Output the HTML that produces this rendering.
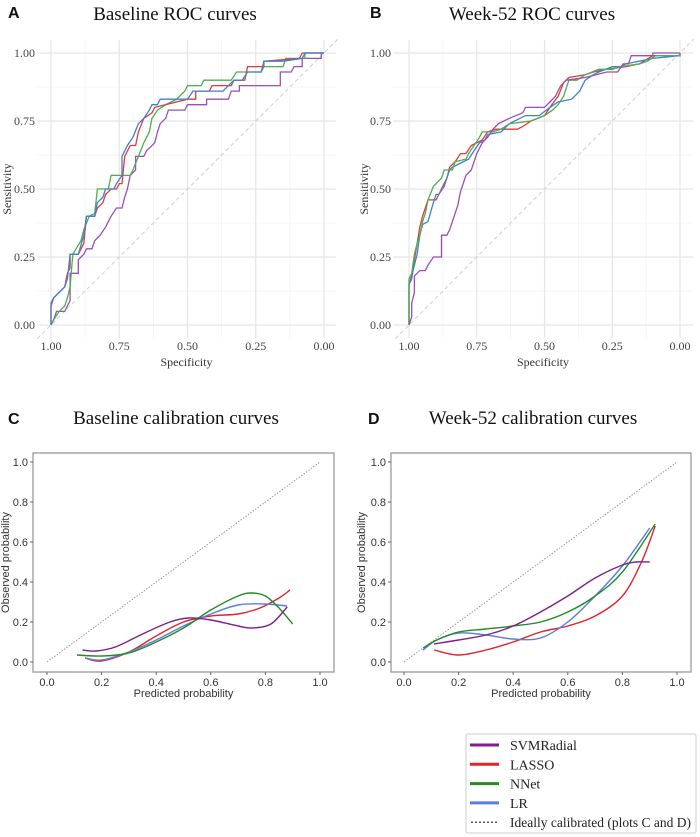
<!DOCTYPE html>
<html><head><meta charset="utf-8"><style>
html,body{margin:0;padding:0;background:#fff;}
svg{display:block;}
.serif{font-family:"Liberation Serif",serif;}
.sans{font-family:"Liberation Sans",sans-serif;}
</style></head><body>
<svg id="fig" width="700" height="837" viewBox="0 0 700 837" xmlns="http://www.w3.org/2000/svg"></svg>
<script>
// ---------- Data ----------
const rocTicks = [1.00, 0.75, 0.50, 0.25, 0.00];
const rocTickLabels = ["1.00","0.75","0.50","0.25","0.00"];
const calTicks = [0.0, 0.2, 0.4, 0.6, 0.8, 1.0];
const calTickLabels = ["0.0","0.2","0.4","0.6","0.8","1.0"];
const modelNames = ["SVMRadial","LASSO","NNet","LR"];

// Panel A (baseline ROC): [specificity, sensitivity]
const rocA_LR = [[1,0],[1,0.08],[0.99,0.1],[0.97,0.12],[0.95,0.14],[0.94,0.17],[0.93,0.26],[0.9,0.26],[0.88,0.33],[0.87,0.4],[0.84,0.4],[0.83,0.45],[0.81,0.47],[0.8,0.5],[0.77,0.5],[0.76,0.52],[0.74,0.55],[0.74,0.62],[0.72,0.66],[0.7,0.69],[0.68,0.74],[0.66,0.76],[0.64,0.79],[0.63,0.81],[0.61,0.81],[0.6,0.83],[0.5,0.83],[0.48,0.86],[0.37,0.86],[0.35,0.88],[0.33,0.9],[0.3,0.9],[0.28,0.93],[0.23,0.93],[0.22,0.97],[0.15,0.97],[0.08,0.98],[0.07,1],[0,1]];
const rocA_LASSO = [[1,0],[1,0.07],[0.99,0.1],[0.97,0.12],[0.95,0.14],[0.94,0.19],[0.93,0.21],[0.93,0.26],[0.9,0.26],[0.88,0.3],[0.87,0.4],[0.84,0.4],[0.83,0.43],[0.81,0.45],[0.8,0.48],[0.78,0.5],[0.76,0.5],[0.75,0.52],[0.74,0.52],[0.73,0.62],[0.71,0.66],[0.69,0.66],[0.68,0.71],[0.66,0.76],[0.63,0.78],[0.62,0.8],[0.5,0.83],[0.47,0.83],[0.47,0.86],[0.42,0.86],[0.41,0.88],[0.37,0.88],[0.34,0.88],[0.33,0.9],[0.29,0.9],[0.28,0.95],[0.22,0.95],[0.22,0.97],[0.09,0.98],[0.08,1],[0,1]];
const rocA_NNet = [[1,0],[0.99,0.02],[0.97,0.05],[0.95,0.07],[0.94,0.1],[0.93,0.14],[0.92,0.26],[0.89,0.31],[0.88,0.35],[0.86,0.4],[0.84,0.41],[0.83,0.5],[0.79,0.5],[0.78,0.55],[0.71,0.55],[0.7,0.57],[0.68,0.62],[0.66,0.67],[0.64,0.71],[0.63,0.76],[0.61,0.79],[0.58,0.81],[0.54,0.83],[0.51,0.86],[0.5,0.88],[0.45,0.88],[0.44,0.9],[0.34,0.9],[0.32,0.93],[0.23,0.93],[0.22,0.95],[0.15,0.95],[0.14,0.98],[0.07,0.98],[0.07,1],[0,1]];
const rocA_SVM = [[1,0],[0.99,0.02],[0.98,0.05],[0.95,0.05],[0.93,0.09],[0.93,0.19],[0.9,0.19],[0.9,0.24],[0.88,0.26],[0.87,0.28],[0.85,0.28],[0.84,0.31],[0.82,0.33],[0.8,0.36],[0.78,0.4],[0.76,0.43],[0.74,0.43],[0.73,0.47],[0.72,0.5],[0.71,0.55],[0.69,0.57],[0.69,0.62],[0.66,0.62],[0.65,0.64],[0.62,0.67],[0.61,0.71],[0.6,0.74],[0.58,0.76],[0.57,0.79],[0.51,0.79],[0.5,0.81],[0.43,0.81],[0.43,0.83],[0.35,0.83],[0.34,0.86],[0.31,0.86],[0.31,0.88],[0.16,0.88],[0.16,0.93],[0.12,0.93],[0.11,0.95],[0.08,0.95],[0.08,0.98],[0.01,0.98],[0.01,1],[0,1]];

// Panel B (week-52 ROC)
const rocB_NNet = [[1,0],[1,0.17],[0.99,0.19],[0.98,0.26],[0.97,0.3],[0.96,0.33],[0.95,0.38],[0.94,0.41],[0.93,0.46],[0.91,0.51],[0.88,0.54],[0.87,0.57],[0.84,0.57],[0.83,0.6],[0.79,0.61],[0.78,0.63],[0.76,0.66],[0.74,0.69],[0.73,0.71],[0.69,0.71],[0.66,0.72],[0.63,0.74],[0.55,0.75],[0.5,0.77],[0.47,0.79],[0.45,0.81],[0.43,0.84],[0.41,0.9],[0.38,0.9],[0.35,0.92],[0.3,0.94],[0.25,0.94],[0.22,0.95],[0.15,0.96],[0.12,0.97],[0.09,0.99],[0,0.99],[0,1]];
const rocB_LASSO = [[1,0],[1,0.15],[0.99,0.17],[0.98,0.24],[0.96,0.36],[0.95,0.4],[0.94,0.43],[0.93,0.46],[0.9,0.46],[0.88,0.5],[0.86,0.54],[0.85,0.58],[0.83,0.6],[0.81,0.63],[0.79,0.63],[0.77,0.66],[0.73,0.68],[0.71,0.71],[0.68,0.72],[0.6,0.72],[0.58,0.73],[0.55,0.75],[0.5,0.77],[0.48,0.8],[0.45,0.84],[0.43,0.89],[0.41,0.91],[0.35,0.92],[0.32,0.93],[0.27,0.94],[0.2,0.95],[0.15,0.96],[0.1,0.99],[0,0.99],[0,1]];
const rocB_LR = [[1,0],[1,0.15],[0.99,0.18],[0.98,0.22],[0.97,0.26],[0.96,0.33],[0.95,0.37],[0.93,0.38],[0.91,0.45],[0.9,0.48],[0.89,0.48],[0.87,0.51],[0.86,0.54],[0.85,0.57],[0.84,0.58],[0.82,0.59],[0.78,0.61],[0.76,0.64],[0.74,0.67],[0.72,0.68],[0.71,0.7],[0.66,0.71],[0.63,0.74],[0.57,0.77],[0.52,0.77],[0.48,0.8],[0.45,0.82],[0.4,0.83],[0.37,0.86],[0.35,0.9],[0.32,0.92],[0.3,0.93],[0.25,0.95],[0.22,0.95],[0.2,0.96],[0.15,0.97],[0.1,0.98],[0,0.99],[0,1]];
const rocB_SVM = [[1,0],[0.99,0.03],[0.99,0.08],[0.98,0.12],[0.98,0.18],[0.96,0.2],[0.94,0.2],[0.93,0.22],[0.91,0.25],[0.88,0.25],[0.88,0.33],[0.86,0.33],[0.85,0.35],[0.84,0.38],[0.82,0.44],[0.81,0.49],[0.8,0.52],[0.79,0.55],[0.77,0.57],[0.76,0.6],[0.75,0.63],[0.73,0.67],[0.71,0.69],[0.69,0.72],[0.67,0.74],[0.65,0.75],[0.63,0.76],[0.58,0.78],[0.57,0.8],[0.5,0.8],[0.48,0.82],[0.46,0.84],[0.44,0.88],[0.42,0.9],[0.35,0.91],[0.27,0.93],[0.23,0.93],[0.21,0.96],[0.19,0.96],[0.18,0.99],[0.1,0.99],[0.1,1],[0,1]];

// Panel C (baseline calibration): [predicted, observed]
const calC_SVM = [[0.13,0.06],[0.18,0.055],[0.25,0.075],[0.35,0.14],[0.45,0.2],[0.52,0.22],[0.6,0.21],[0.7,0.18],[0.75,0.17],[0.82,0.19],[0.88,0.275]];
const calC_LASSO = [[0.14,0.02],[0.2,0.005],[0.3,0.05],[0.4,0.13],[0.5,0.2],[0.6,0.23],[0.7,0.24],[0.78,0.27],[0.85,0.32],[0.89,0.36]];
const calC_NNet = [[0.11,0.035],[0.2,0.03],[0.3,0.045],[0.4,0.1],[0.5,0.17],[0.6,0.26],[0.7,0.33],[0.75,0.345],[0.8,0.33],[0.85,0.27],[0.9,0.19]];
const calC_LR = [[0.14,0.02],[0.2,0.01],[0.3,0.05],[0.4,0.11],[0.5,0.18],[0.6,0.24],[0.7,0.285],[0.8,0.29],[0.88,0.28]];

// Panel D (week-52 calibration)
const calD_SVM = [[0.11,0.09],[0.2,0.11],[0.3,0.135],[0.4,0.18],[0.5,0.25],[0.6,0.33],[0.7,0.42],[0.8,0.485],[0.85,0.5],[0.9,0.5]];
const calD_LASSO = [[0.11,0.06],[0.2,0.035],[0.3,0.06],[0.4,0.1],[0.5,0.15],[0.6,0.18],[0.7,0.23],[0.8,0.33],[0.87,0.5],[0.92,0.68]];
const calD_NNet = [[0.07,0.07],[0.12,0.11],[0.2,0.15],[0.3,0.165],[0.4,0.18],[0.5,0.2],[0.6,0.25],[0.7,0.33],[0.8,0.45],[0.92,0.69]];
const calD_LR = [[0.07,0.06],[0.12,0.11],[0.2,0.145],[0.3,0.135],[0.4,0.115],[0.5,0.12],[0.6,0.2],[0.7,0.33],[0.8,0.48],[0.9,0.67]];

// ---------- Drawing ----------
const NS = "http://www.w3.org/2000/svg";
const svg = document.getElementById("fig");
function mk(tag, attrs, parent){
  const e = document.createElementNS(NS, tag);
  for (const k in attrs) e.setAttribute(k, attrs[k]);
  (parent||svg).appendChild(e);
  return e;
}
function txt(s, attrs, parent){ const e = mk("text", attrs, parent); e.textContent = s; return e; }

const rocColors = {SVM:"#9a4fb5", LASSO:"#e23b3b", NNet:"#4cae4f", LR:"#3b82d0"};
const calColors = {SVM:"#7d1f8c", LASSO:"#e3242b", NNet:"#238b22", LR:"#5a7ee0"};

function rocPanel(cfg){
  const g = mk("g", {});
  
  
  const X = v => cfg.xAt0 + (cfg.xAt1 - cfg.xAt0) * v;
  const Y = v => cfg.yAt0 + (cfg.yAt1 - cfg.yAt0) * v;
  [0.125,0.375,0.625,0.875].forEach(v=>{
    mk("line",{x1:cfg.left,x2:cfg.right,y1:Y(v),y2:Y(v),stroke:"#f2f2f2","stroke-width":0.8},g);
    mk("line",{x1:X(v),x2:X(v),y1:cfg.top,y2:cfg.bottom,stroke:"#f2f2f2","stroke-width":0.8},g);
  });
  rocTicks.forEach(v=>{
    mk("line",{x1:cfg.left,x2:cfg.right,y1:Y(v),y2:Y(v),stroke:"#e6e6e6","stroke-width":1.2},g);
    mk("line",{x1:X(v),x2:X(v),y1:cfg.top,y2:cfg.bottom,stroke:"#e6e6e6","stroke-width":1.2},g);
  });
  const d = mk("line",{x1:X(1.05),y1:Y(-0.05),x2:X(-0.05),y2:Y(1.05),stroke:"#cfcfcf","stroke-width":1,"stroke-dasharray":"4,3"},g);
  
  
  cfg.series.forEach(s=>{
    const p = mk("polyline",{points:s.data.map(q=>X(q[0]).toFixed(1)+","+Y(q[1]).toFixed(1)).join(" "),fill:"none",stroke:rocColors[s.key],"stroke-width":1.3},g);
    
    
  });
  rocTicks.forEach((v,i)=>{
    const t = txt(rocTickLabels[i],{x:cfg.left-2,y:Y(v)+4,"text-anchor":"end","font-size":12,fill:"#444",class:"serif"},g);
    
    
    const t2 = txt(rocTickLabels[i],{x:X(v),y:cfg.bottom+12,"text-anchor":"middle","font-size":12,fill:"#444",class:"serif"},g);
    
    
  });
  const xt = txt("Specificity",{x:(cfg.left+cfg.right)/2,y:cfg.bottom+28,"text-anchor":"middle","font-size":12,fill:"#333",class:"serif"},g);
  
  
  const yt = txt("Sensitivity",{x:0,y:0,"text-anchor":"middle","font-size":12,fill:"#333",class:"serif",transform:`translate(${cfg.ylabX},${(cfg.top+cfg.bottom)/2}) rotate(-90)`},g);
  
  
  const ti = txt(cfg.title,{x:cfg.titleX,y:20,"text-anchor":"middle","font-size":19,fill:"#111",class:"serif"},g);
  
  
  const lt = txt(cfg.letter,{x:cfg.letterX,y:18,"font-size":16,"font-weight":"bold",fill:"#111",class:"sans"},g);
  
  
}

function smoothPath(pts){
  if (pts.length<2) return "";
  let d = "M"+pts[0][0].toFixed(1)+","+pts[0][1].toFixed(1);
  for (let i=0;i<pts.length-1;i++){
    const p0 = pts[i-1]||pts[i], p1=pts[i], p2=pts[i+1], p3=pts[i+2]||pts[i+1];
    const c1x = p1[0]+(p2[0]-p0[0])/6, c1y=p1[1]+(p2[1]-p0[1])/6;
    const c2x = p2[0]-(p3[0]-p1[0])/6, c2y=p2[1]-(p3[1]-p1[1])/6;
    d += ` C${c1x.toFixed(1)},${c1y.toFixed(1)} ${c2x.toFixed(1)},${c2y.toFixed(1)} ${p2[0].toFixed(1)},${p2[1].toFixed(1)}`;
  }
  return d;
}

function calPanel(cfg){
  const g = mk("g", {});
  
  
  const X = v => cfg.xAt0 + (cfg.xAt1 - cfg.xAt0) * v;
  const Y = v => cfg.yAt0 + (cfg.yAt1 - cfg.yAt0) * v;
  const fr = mk("rect",{x:cfg.left,y:cfg.top,width:cfg.right-cfg.left,height:cfg.bottom-cfg.top,fill:"#fff",stroke:"#9a9a9a","stroke-width":1.3},g);
  
  
  const d = mk("line",{x1:X(0),y1:Y(0),x2:X(1),y2:Y(1),stroke:"#9a9a9a","stroke-width":1,"stroke-dasharray":"1.5,1.5"},g);
  
  
  cfg.series.forEach(s=>{
    const p = mk("path",{d:smoothPath(s.data.map(q=>[X(q[0]),Y(q[1])])),fill:"none",stroke:calColors[s.key],"stroke-width":1.4},g);
    
    
  });
  calTicks.forEach((v,i)=>{
    mk("line",{x1:cfg.left-3,x2:cfg.left,y1:Y(v),y2:Y(v),stroke:"#666"},g);
    mk("line",{x1:X(v),x2:X(v),y1:cfg.bottom,y2:cfg.bottom+3,stroke:"#666"},g);
    const t = txt(calTickLabels[i],{x:cfg.left-5,y:Y(v)+4,"text-anchor":"end","font-size":11,fill:"#333",class:"sans"},g);
    
    
    const t2 = txt(calTickLabels[i],{x:X(v),y:cfg.bottom+14,"text-anchor":"middle","font-size":11,fill:"#333",class:"sans"},g);
    
    
  });
  const xt = txt("Predicted probability",{x:(cfg.left+cfg.right)/2,y:cfg.bottom+25,"text-anchor":"middle","font-size":11,fill:"#333",class:"sans"},g);
  
  
  const yt = txt("Observed probability",{x:0,y:0,"text-anchor":"middle","font-size":11,fill:"#333",class:"sans",transform:`translate(${cfg.ylabX},${(cfg.top+cfg.bottom)/2}) rotate(-90)`},g);
  
  
  const ti = txt(cfg.title,{x:cfg.titleX,y:424,"text-anchor":"middle","font-size":19,fill:"#111",class:"serif"},g);
  
  
  const lt = txt(cfg.letter,{x:cfg.letterX,y:424,"font-size":16,"font-weight":"bold",fill:"#111",class:"sans"},g);
  
  
}

rocPanel({name:"panel-a-baseline-roc",letter:"A",letterX:8,title:"Baseline ROC curves",titleX:175,
  left:37,right:336,top:40,bottom:338,xAt1:51,xAt0:324,yAt0:325,yAt1:53,ylabX:11,
  series:[{key:"SVM",label:"svmradial",data:rocA_SVM},{key:"NNet",label:"nnet",data:rocA_NNet},{key:"LASSO",label:"lasso",data:rocA_LASSO},{key:"LR",label:"lr",data:rocA_LR}]});
rocPanel({name:"panel-b-week52-roc",letter:"B",letterX:370,title:"Week-52 ROC curves",titleX:532,
  left:393,right:693,top:40,bottom:338,xAt1:409,xAt0:680,yAt0:325,yAt1:53,ylabX:368,
  series:[{key:"LASSO",label:"lasso",data:rocB_LASSO},{key:"LR",label:"lr",data:rocB_LR},{key:"NNet",label:"nnet",data:rocB_NNet},{key:"SVM",label:"svmradial",data:rocB_SVM}]});
calPanel({name:"panel-c-baseline-calibration",letter:"C",letterX:8,title:"Baseline calibration curves",titleX:176,
  left:33,right:334,top:453,bottom:672,xAt0:47,xAt1:320,yAt0:662,yAt1:462,ylabX:9,
  series:[{key:"LASSO",label:"lasso",data:calC_LASSO},{key:"LR",label:"lr",data:calC_LR},{key:"NNet",label:"nnet",data:calC_NNet},{key:"SVM",label:"svmradial",data:calC_SVM}]});
calPanel({name:"panel-d-week52-calibration",letter:"D",letterX:368,title:"Week-52 calibration curves",titleX:533,
  left:391,right:691,top:453,bottom:672,xAt0:404,xAt1:677,yAt0:662,yAt1:462,ylabX:365,
  series:[{key:"LASSO",label:"lasso",data:calD_LASSO},{key:"LR",label:"lr",data:calD_LR},{key:"NNet",label:"nnet",data:calD_NNet},{key:"SVM",label:"svmradial",data:calD_SVM}]});

// Legend
const lg = mk("g",{});


mk("rect",{x:466,y:734,width:230,height:99,rx:2,fill:"#fff",stroke:"#cfcfcf","stroke-width":1},lg);
const legendKeys = ["SVM","LASSO","NNet","LR"];
legendKeys.forEach((k,i)=>{
  const y = 745 + i*19.3;
  const ln = mk("line",{x1:470,x2:499,y1:y,y2:y,stroke:calColors[k],"stroke-width":3},lg);
  
  
  const t = txt(modelNames[i],{x:510,y:y+5,"font-size":14,fill:"#222",class:"serif"},lg);
  
  
});
const iy = 745 + 4*19.3;
const il = mk("line",{x1:471,x2:497,y1:iy,y2:iy,stroke:"#555","stroke-width":1.5,"stroke-dasharray":"2,2"},lg);


const it = txt("Ideally calibrated (plots C and D)",{x:510,y:iy+5,"font-size":14,fill:"#222",class:"serif",textLength:181,lengthAdjust:"spacingAndGlyphs"},lg);


</script>
</body></html>
